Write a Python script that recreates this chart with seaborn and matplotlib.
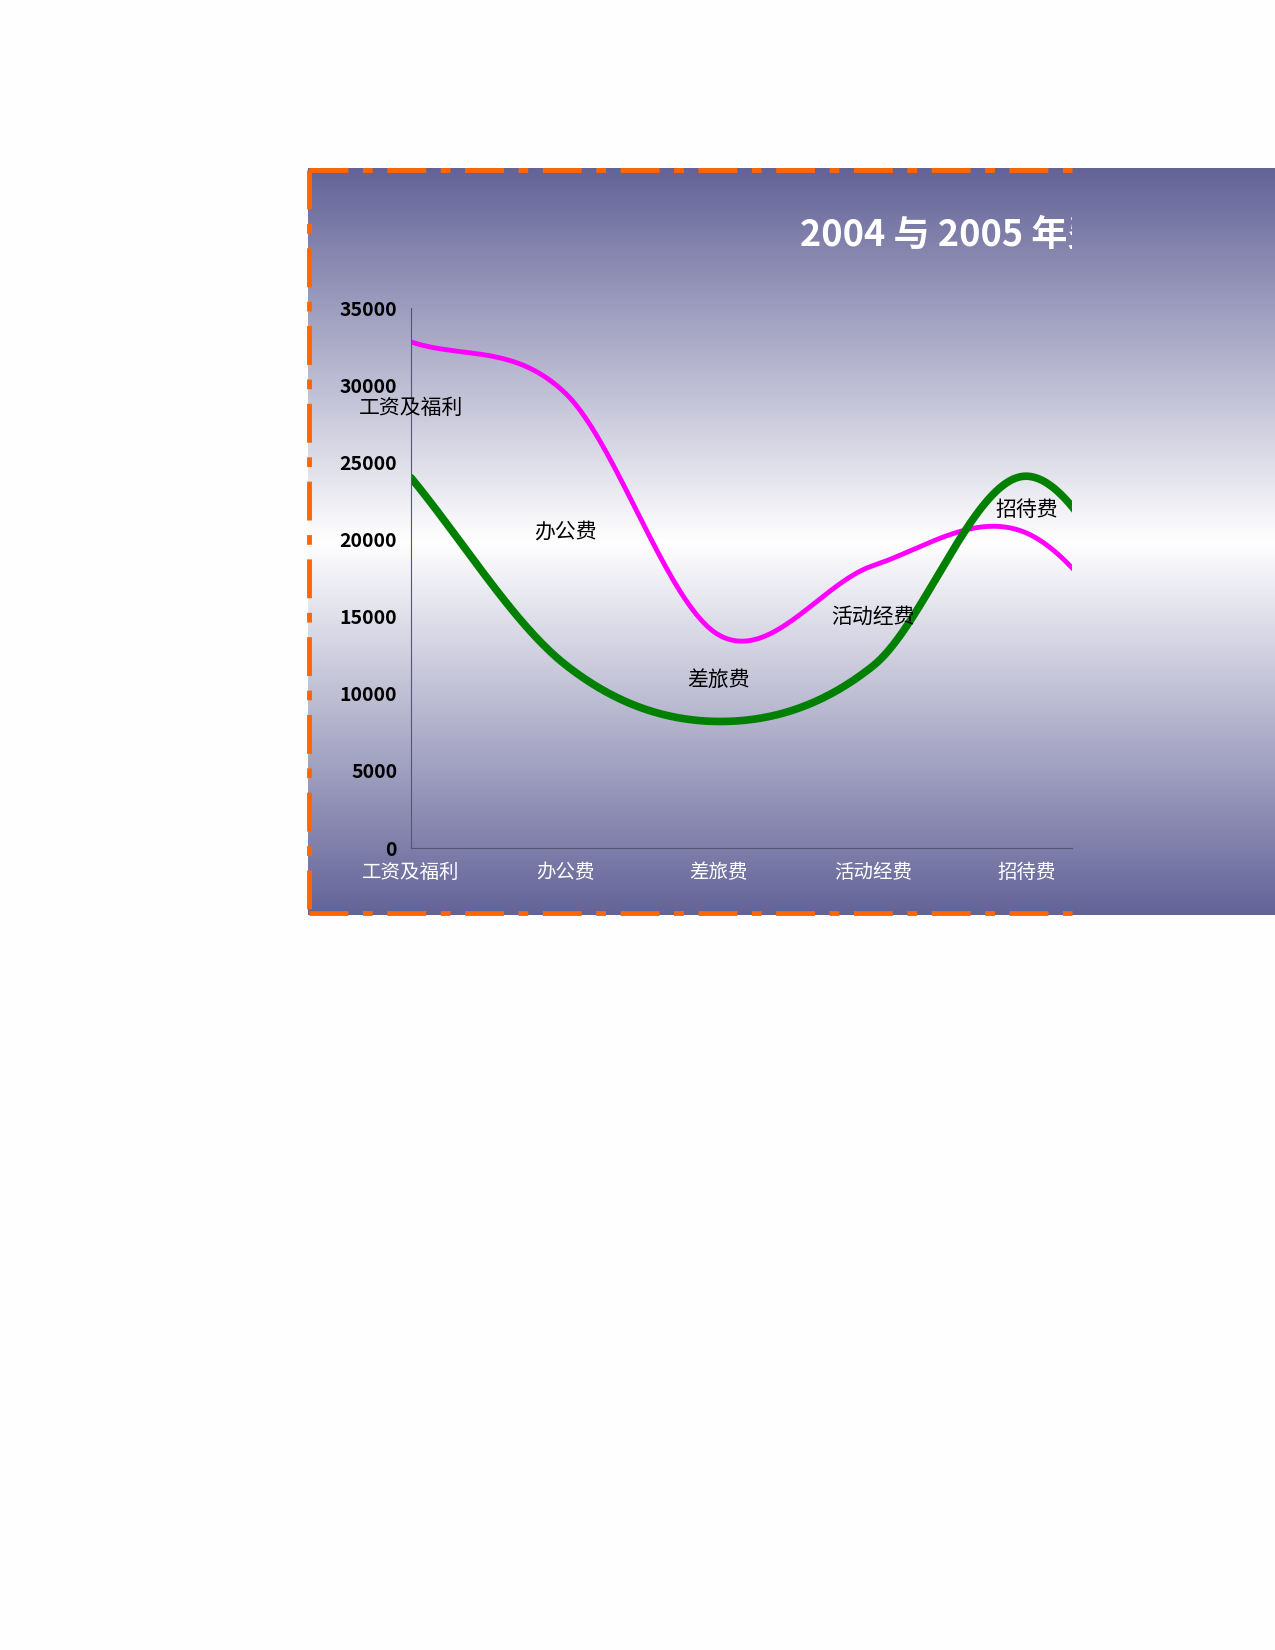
import numpy as np, pandas as pd, matplotlib
matplotlib.use("Agg")
import matplotlib.pyplot as plt
import seaborn as sns
from matplotlib.lines import Line2D

sns.set_style("white")
plt.rcParams['font.family'] = ['Noto Sans CJK SC', 'DejaVu Sans']

categories = ["工资及福利", "办公费", "差旅费", "活动经费", "招待费", "其他"]
series_2004 = [32800, 29500, 13800, 18300, 20400, 9500]
series_2005 = [24000, 11900, 8200, 11800, 24100, 11000]
label_values = [28500, 20500, 10900, 15000, 21900]
yticks = [0, 5000, 10000, 15000, 20000, 25000, 30000, 35000]

W, H = 1275, 1650
fig = plt.figure(figsize=(12.75, 16.5), dpi=100)
fig.patch.set_facecolor("#fefefe")

def fx(x): return x / W
def fy(y): return 1 - y / H

# background gradient
bg = fig.add_axes([fx(308), fy(915), fx(W - 308), (915 - 168) / H])
t = np.linspace(0, 1, 300)
d = np.abs(t - 0.5) * 2
c0 = np.array([1, 1, 1]); c1 = np.array([0x63, 0x63, 0x98]) / 255
grad = (c0[None, :] * (1 - d[:, None]) + c1[None, :] * d[:, None])
bg.imshow(grad[:, None, :], aspect='auto', extent=[0, 1, 0, 1])
bg.axis('off')

def smooth(vals, n=40):
    p = np.array(vals, float)
    p = np.concatenate([[2 * p[0] - p[1]], p, [2 * p[-1] - p[-2]]])
    xs, ys = [], []
    for i in range(1, len(p) - 2):
        s = np.linspace(0, 1, n, endpoint=False)
        p0, p1, p2, p3 = p[i - 1], p[i], p[i + 1], p[i + 2]
        y = 0.5 * (2 * p1 + (-p0 + p2) * s + (2 * p0 - 5 * p1 + 4 * p2 - p3) * s**2 + (-p0 + 3 * p1 - 3 * p2 + p3) * s**3)
        xs.extend(i - 1 + s); ys.extend(y)
    xs.append(len(vals) - 1); ys.append(vals[-1])
    return np.array(xs), np.array(ys)

ax = fig.add_axes([fx(411), fy(848), fx(1072 - 411), (848 - 308) / H])
ax.patch.set_alpha(0)
rows = []
for name, vals in [("2004", series_2004), ("2005", series_2005)]:
    xs, ys = smooth(vals)
    rows.append(pd.DataFrame({"x": xs, "y": ys, "s": name}))
df = pd.concat(rows)
sns.lineplot(data=df, x="x", y="y", hue="s", palette={"2004": "#ff00ff", "2005": "#008000"},
             size="s", sizes={"2004": 3.5, "2005": 5.5}, legend=False, ax=ax, sort=False)
ax.set_xlim(0, (1072 - 411) / 154)
ax.set_ylim(0, 35000)
ax.set_yticks(yticks)
ax.set_yticklabels([str(v) for v in yticks], fontsize=14, fontweight='bold', color='black')
ax.set_xticks(range(5))
ax.set_xticklabels(categories[:5], fontsize=14, color='white')
ax.tick_params(axis='both', direction='out', length=6, color='#555577', pad=4)
ax.set_xlabel(""); ax.set_ylabel("")
for s in ["top", "right"]:
    ax.spines[s].set_visible(False)
for s in ["left", "bottom"]:
    ax.spines[s].set_color('#555577')
for i, v in enumerate(label_values):
    ax.text(i, v, categories[i], ha='center', va='center', fontsize=15, color='black', clip_on=False)

ov = fig.add_axes([fx(308), fy(915), fx(1072 - 308), (915 - 168) / H])
ov.axis('off'); ov.set_xlim(308, 1072); ov.set_ylim(915, 168)
ov.text(800, 235, "2004 与 2005 年费用对比图", fontsize=26, fontweight='bold', color='white',
        va='center', ha='left', clip_on=True)
kw = dict(color='#ff6600', linewidth=3.5, linestyle=(0, (8, 3, 2, 3)), clip_on=False)
ov.add_line(Line2D([309, 1072], [170, 170], **kw))
ov.add_line(Line2D([309, 1072], [913, 913], **kw))
ov.add_line(Line2D([309, 309], [170, 913], **kw))

fig.savefig("out.png", dpi=100)
